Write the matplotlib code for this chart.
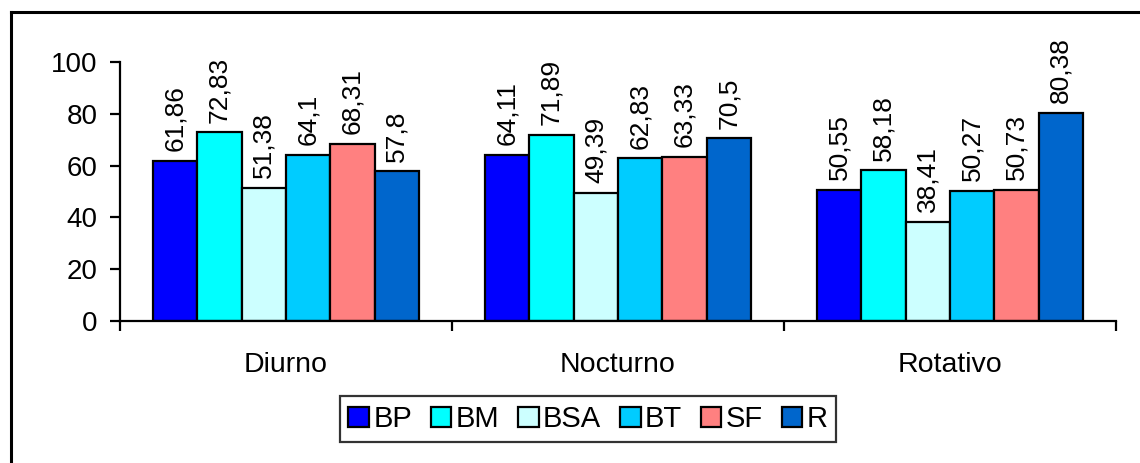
import matplotlib
matplotlib.use("Agg")
import matplotlib.pyplot as plt
from matplotlib.lines import Line2D
import numpy as np

plt.rcParams['font.family'] = ['Liberation Sans', 'DejaVu Sans']

categories = ["Diurno", "Nocturno", "Rotativo"]
series = ["BP", "BM", "BSA", "BT", "SF", "R"]
values = {
    "BP":  [61.86, 64.11, 50.55],
    "BM":  [72.83, 71.89, 58.18],
    "BSA": [51.38, 49.39, 38.41],
    "BT":  [64.10, 62.83, 50.27],
    "SF":  [68.31, 63.33, 50.73],
    "R":   [57.80, 70.50, 80.38],
}
value_text = {
    "BP":  ["61,86", "64,11", "50,55"],
    "BM":  ["72,83", "71,89", "58,18"],
    "BSA": ["51,38", "49,39", "38,41"],
    "BT":  ["64,1", "62,83", "50,27"],
    "SF":  ["68,31", "63,33", "50,73"],
    "R":   ["57,8", "70,5", "80,38"],
}
colors = ["#0000FF", "#00FFFF", "#CCFFFF", "#00CCFF", "#FF8080", "#0066CC"]
y_ticks = [0, 20, 40, 60, 80, 100]

W, H = 1140, 463
fig = plt.figure(figsize=(W / 100, H / 100), dpi=100)
fig.patch.set_facecolor("white")

# outer chart frame (left and top edges)
fy = (H - 12) / H
fx = 11 / W
fig.add_artist(Line2D([fx, fx], [fy, -0.05], transform=fig.transFigure, color="black", lw=2.2))
fig.add_artist(Line2D([fx, 1.05], [fy, fy], transform=fig.transFigure, color="black", lw=2.2))

ax = fig.add_axes([120 / W, (H - 321) / H, (1116 - 120) / W, (321 - 62) / H])

x = np.arange(len(categories))
n = len(series)
group_w = 0.8
bw = group_w / n
for i, (s, c) in enumerate(zip(series, colors)):
    pos = x - group_w / 2 + bw * (i + 0.5)
    bars = ax.bar(pos, values[s], width=bw, color=c, edgecolor="black", linewidth=1.6,
                  label=s, zorder=3)
    for rect, txt in zip(bars, value_text[s]):
        ax.annotate(txt, (rect.get_x() + rect.get_width() / 2, rect.get_height()),
                    xytext=(0, 7), textcoords="offset points", rotation=90,
                    ha="center", va="bottom", fontsize=19, color="black")

ax.set_xlim(-0.5, len(categories) - 0.5)
ax.set_ylim(0, 100)
ax.set_yticks(y_ticks)
ax.set_yticklabels([str(t) for t in y_ticks], fontsize=20)

ax.set_xticks(np.arange(len(categories) + 1) - 0.5)
ax.set_xticklabels([])
ax.set_xticks(x, minor=True)
ax.set_xticklabels(categories, minor=True, fontsize=20.5)
ax.tick_params(axis="x", which="minor", length=0, pad=22)
ax.tick_params(axis="x", which="major", direction="out", length=7, width=1.6)
ax.tick_params(axis="y", direction="out", length=7, width=1.6, pad=9)

for side in ("top", "right"):
    ax.spines[side].set_visible(False)
for side in ("left", "bottom"):
    ax.spines[side].set_linewidth(1.6)
ax.spines["bottom"].set_zorder(4)

leg = fig.legend(loc="center", bbox_to_anchor=(588 / W, (H - 419) / H), ncol=n,
                 fontsize=21, frameon=True, fancybox=False, edgecolor="black",
                 handlelength=0.7, handleheight=0.7, handletextpad=0.15,
                 columnspacing=0.65, borderpad=0.3, borderaxespad=0)
leg.get_frame().set_linewidth(1.6)

fig.savefig("out.png", dpi=100, facecolor="white")
